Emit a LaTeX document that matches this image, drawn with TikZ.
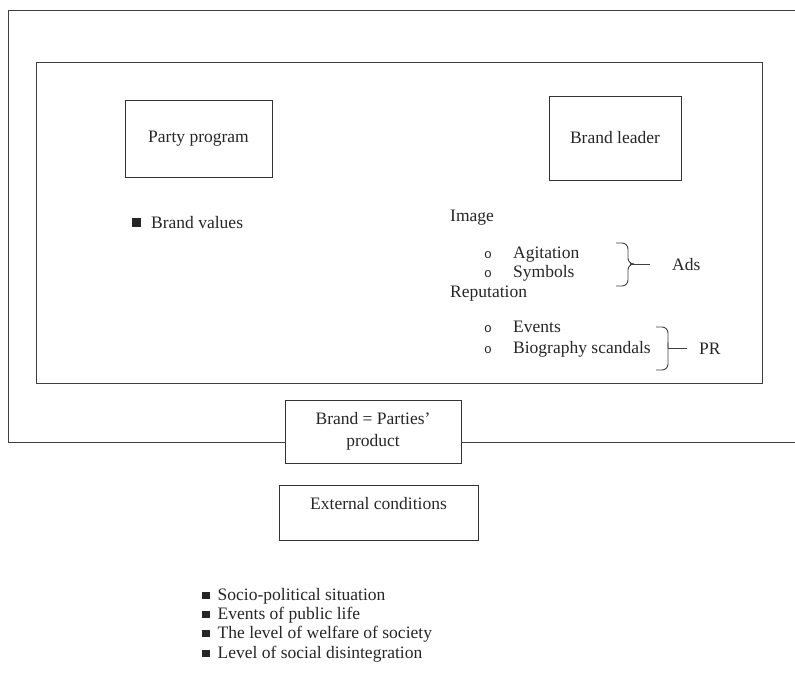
\documentclass[tikz,border=0pt]{standalone}
\usepackage{fontspec}
\setmainfont{Liberation Serif}
\newfontfamily\bulletfont{Liberation Mono}
\usetikzlibrary{calc}
\tikzstyle{box}=[rectangle,draw=black!80,line width=0.9pt,inner sep=0pt,align=center]
\tikzstyle{item}=[anchor=base west,inner sep=0pt]
\tikzstyle{frame}=[draw=black!75,line width=0.9pt]
\tikzstyle{bracket}=[frame,rounded corners=6pt]
\newcommand{\sqbullet}{\raisebox{0.8pt}{\rule{9pt}{9pt}}}
\newcommand{\sqsmall}{\raisebox{0.8pt}{\rule{7.5pt}{7.5pt}}}
\newcommand{\circbullet}{\makebox[29pt][l]{\bulletfont\fontsize{13}{13}\selectfont o}}

\begin{document}
\begin{tikzpicture}[x=1pt,y=-1pt,font=\fontsize{17.5}{22}\selectfont,text=black!85]
    \useasboundingbox (0,0) rectangle (795,675);

    % frames
    \draw[frame] (36,62) rectangle (762,383);

    \node[box, minimum width=147pt, minimum height=77pt] (party) at (198.5,138.5) {Party program};
    \node[box, minimum width=132pt, minimum height=84pt] (leader) at (615,138) {Brand leader};
    \node[box, minimum width=176pt, minimum height=63pt] (brand) at (373,431.5) {Brand = Parties’\\product};
    \node[box, minimum width=199pt, minimum height=55pt, text height=13pt, text depth=20pt] (ext) at (378.5,512.5) {External conditions};

    \coordinate (ob) at (8,442);
    \draw[frame] (795,10) -- (8,10) -- (ob) -- (ob -| brand.west);
    \draw[frame] (ob -| brand.east) -- (795,442);

    % program side
    \node[item] (values) at (132,228) {\sqbullet\hspace{10pt}Brand values};

    % leader side
    \node[item] (image) at (450,221) {Image};
    \node[item] (reput) at (450,297) {Reputation};
    \foreach \y/\name/\label in {258/agit/Agitation, 277/symb/Symbols, 332/events/Events, 353/bio/Biography scandals}
        \node[item] (\name) at (484,\y) {\circbullet\label};

    \node[item] (ads) at (672,270) {Ads};
    \node[item] (pr) at (699,354) {PR};

    \coordinate (adstip) at ([xshift=-42pt]ads.west);
    \coordinate (prtip) at ([xshift=-31pt]pr.west);
    \draw[bracket] (616,243) -- (628,243) -- (adstip -| 628,0) -- (adstip);
    \draw[bracket] (616,286) -- (628,286) -- (adstip -| 628,0) -- (adstip);
    \draw[bracket] (656,327) -- (668,327) -- (prtip -| 668,0) -- (prtip);
    \draw[bracket] (656,370) -- (668,370) -- (prtip -| 668,0) -- (prtip);
    \draw[frame] ([xshift=-22pt]ads.west) -- (adstip);
    \draw[frame] ([xshift=-12pt]pr.west) -- (prtip);

    % external conditions
    \foreach \y/\name/\label in {600/cond1/Socio-political situation, 619/cond2/Events of public life, 638/cond3/The level of welfare of society, 658/cond4/Level of social disintegration}
        \node[item] (\name) at (202,\y) {\sqsmall\hspace{8pt}\label};

\end{tikzpicture}
\end{document}
